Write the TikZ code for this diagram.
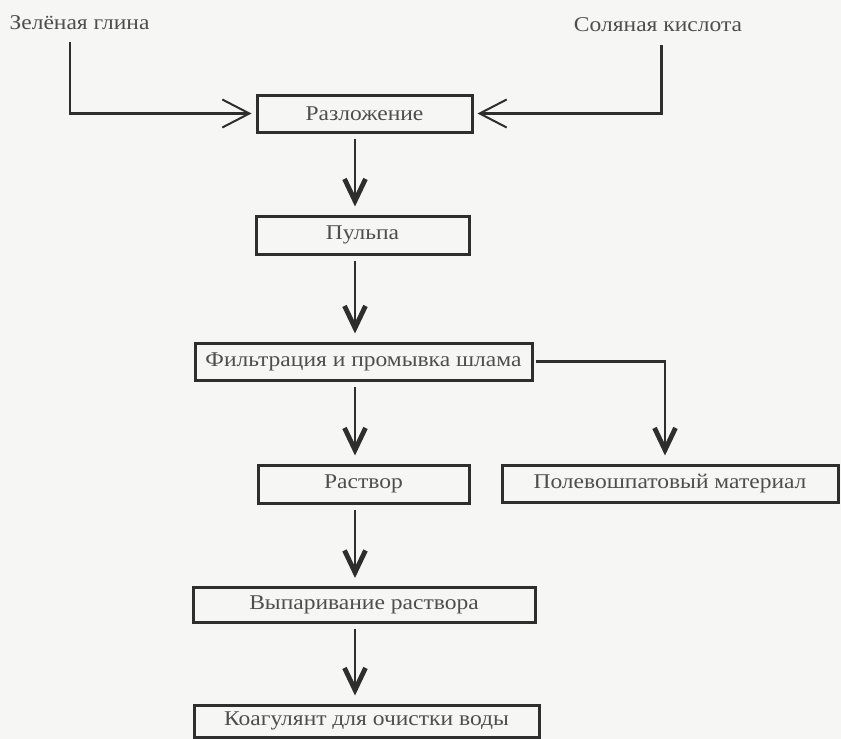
\documentclass[tikz,border=0pt]{standalone}
\usepackage{fontspec}
\setmainfont{Liberation Serif}[FakeStretch=1.12]
\usetikzlibrary{arrows.meta}
\definecolor{inkline}{HTML}{2E2E2E}
\definecolor{inktext}{HTML}{4E4E4E}
\definecolor{paper}{HTML}{F6F6F4}
\tikzset{
  box/.style={draw=inkline, line width=3pt, inner sep=0pt, text=inktext,
    font=\fontsize{21}{25}\selectfont},
  lbl/.style={inner sep=0pt, text=inktext, font=\fontsize{21}{25}\selectfont},
  inarrow/.style={draw=inkline, line width=2.4pt,
    -{Straight Barb[length=27pt,width=28pt,line width=2pt]}, shorten >=4pt},
  varrow/.style={draw=inkline, line width=2.4pt,
    -{Straight Barb[length=22pt,width=21pt,line width=4.8pt]},
    shorten <=5pt, shorten >=8pt},
}
\begin{document}
\begin{tikzpicture}[x=1pt,y=-1pt]
\useasboundingbox (0,0) rectangle (841,739);
\fill[paper] (0,0) rectangle (841,739);

% labels
\node[lbl] (clay) at (79.5,23) {Зелёная глина};
\node[lbl] (acid) at (658,25) {Соляная кислота};

% boxes
\node[box, minimum width=215pt, minimum height=37pt] (raz) at (364.5,113.5) {Разложение};
\node[box, minimum width=213pt, minimum height=38pt] (pul) at (362.5,235) {Пульпа};
\node[box, minimum width=337pt, minimum height=37pt] (fil) at (363.5,361.5) {Фильтрация и промывка шлама};
\node[box, minimum width=211pt, minimum height=38pt] (ras) at (363.5,484) {Раствор};
\node[box, minimum width=336pt, minimum height=37pt] (pol) at (670,483.5) {Полевошпатовый материал};
\node[box, minimum width=342pt, minimum height=35pt] (vyp) at (364,605) {Выпаривание раствора};
\node[box, minimum width=345pt, minimum height=32pt] (koa) at (366.5,721) {Коагулянт для очистки воды};

% helper coordinates
\coordinate (inL) at (70,42);
\coordinate (inR) at (661.5,45);
\coordinate (cx) at (355,0);
\coordinate (bx) at (665,0);

% input connectors
\draw[inarrow] (inL) |- (raz.west);
\draw[inarrow] (inR) |- (raz.east);

% main flow
\draw[varrow] (raz.south -| cx) -- (pul.north -| cx);
\draw[varrow] (pul.south -| cx) -- (fil.north -| cx);
\draw[varrow] (fil.south -| cx) -- (ras.north -| cx);
\draw[varrow] (ras.south -| cx) -- (vyp.north -| cx);
\draw[varrow] (vyp.south -| cx) -- (koa.north -| cx);

% side branch
\draw[varrow, shorten <=2pt] (fil.east) -| (pol.north -| bx);
\end{tikzpicture}
\end{document}
